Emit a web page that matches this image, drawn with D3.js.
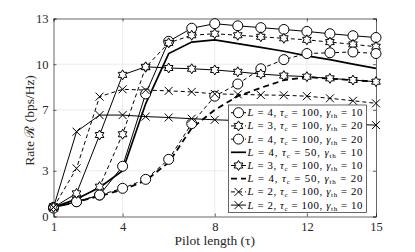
<!DOCTYPE html>
<html><head><meta charset="utf-8">
<script src="https://cdn.jsdelivr.net/npm/d3@7"></script>
<style>body{margin:0;background:#fff}svg{display:block}</style>
</head><body><svg id="c" width="415" height="252"></svg>
<script>
// ---- data ----
const pilotLength = [1,2,3,4,5,6,7,8,9,10,11,12,13,14,15];
const xTickValues = [1,4,8,12,15];
const yTickValues = [0,3,7,10,13];

const rateL4Tc100G10 = [0.6,0.97,1.41,3.3,8.05,11.5,12.36,12.66,12.52,12.4,12.28,12.15,12.0,11.87,11.75];
const rateL3Tc100G20 = [0.6,1.1,1.96,5.4,9.8,11.4,11.9,12.0,11.9,11.8,11.7,11.6,11.45,11.3,11.15];
const rateL4Tc100G20 = [0.55,0.97,1.41,1.85,2.44,3.75,6.1,7.9,8.7,9.7,10.3,10.7,10.75,10.8,10.7];
const rateL4Tc50G10  = [0.6,1.15,1.9,3.0,7.4,10.7,11.45,11.6,11.35,11.1,10.85,10.55,10.3,10.0,9.73];
const rateL3Tc100G10 = [0.6,1.52,5.35,9.3,9.83,9.75,9.7,9.62,9.5,9.35,9.25,9.18,9.07,8.96,8.85];
const rateL4Tc50G20  = [0.6,0.95,1.35,1.75,2.35,3.55,5.8,7.0,7.9,8.45,8.95,9.15,9.05,8.95,8.85];
const rateL2Tc100G20 = [0.6,3.16,7.87,8.35,8.3,8.25,8.18,8.05,8.02,7.98,7.96,7.9,7.76,7.6,7.43];
const rateL2Tc100G10 = [0.6,5.57,6.66,6.66,6.56,6.5,6.42,6.35,6.3,6.25,6.2,6.15,6.1,6.05,6.0];

const legendL     = [4,3,4,4,3,4,2,2];
const legendTauC  = [100,100,100,50,100,50,100,100];
const legendGamma = [10,20,20,10,10,20,20,10];

// ---- styles (kept apart from data) ----
const series = [
  {v: rateL4Tc100G10, dash:null,  w:1,   m:'circle'},
  {v: rateL3Tc100G20, dash:'4,3', w:1,   m:'star'},
  {v: rateL4Tc100G20, dash:'4,3', w:1,   m:'circle'},
  {v: rateL4Tc50G10,  dash:null,  w:1.7, m:null},
  {v: rateL3Tc100G10, dash:null,  w:1,   m:'star'},
  {v: rateL4Tc50G20,  dash:'6,4', w:1.8, m:null},
  {v: rateL2Tc100G20, dash:'4,3', w:1,   m:'x'},
  {v: rateL2Tc100G10, dash:null,  w:1,   m:'x'}
];

const svg = d3.select('#c');
const m = {l:53.5, r:376, t:18.5, b:216.5};
const x = d3.scaleLinear().domain([1,15]).range([m.l, m.r]);
const y = d3.scaleLinear().domain([0,13]).range([m.b, m.t]);
const serif = "'Liberation Serif','Times New Roman',serif";

// grid
const g = svg.append('g');
g.selectAll('.gx').data(xTickValues.slice(1,-1)).enter().append('line')
  .attr('x1',d=>x(d)).attr('x2',d=>x(d)).attr('y1',m.t).attr('y2',m.b)
  .attr('stroke','#e6e6e6').attr('stroke-width',0.8);
g.selectAll('.gy').data(yTickValues.slice(1,-1)).enter().append('line')
  .attr('y1',d=>y(d)).attr('y2',d=>y(d)).attr('x1',m.l).attr('x2',m.r)
  .attr('stroke','#e6e6e6').attr('stroke-width',0.8);

// axes
const axB = svg.append('g').attr('transform',`translate(0,${m.b})`)
  .call(d3.axisBottom(x).tickValues(xTickValues).tickSize(-3).tickPadding(6).tickFormat(d3.format('d')));
const axL = svg.append('g').attr('transform',`translate(${m.l},0)`)
  .call(d3.axisLeft(y).tickValues(yTickValues).tickSize(-3).tickPadding(5).tickFormat(d3.format('d')));
const axT = svg.append('g').attr('transform',`translate(0,${m.t})`)
  .call(d3.axisTop(x).tickValues(xTickValues).tickSize(-3).tickFormat(''));
const axR = svg.append('g').attr('transform',`translate(${m.r},0)`)
  .call(d3.axisRight(y).tickValues(yTickValues).tickSize(-3).tickFormat(''));
[axB,axL,axT,axR].forEach(a=>{
  a.attr('font-family',null);
  a.select('.domain').attr('stroke','#262626').attr('stroke-width',0.7);
  a.selectAll('.tick line').attr('stroke','#262626').attr('stroke-width',0.7);
  a.selectAll('text').style('font-family',serif).attr('font-size',12.5).attr('fill','#262626');
});

// lines
const line = d3.line().x((d,i)=>x(pilotLength[i])).y(d=>y(d));
const lg = svg.append('g');
series.forEach(s=>{
  lg.append('path').datum(s.v).attr('d',line).attr('fill','none')
    .attr('stroke','#000').attr('stroke-width',s.w)
    .attr('stroke-dasharray',s.dash);
});

function starPath(R){
  const r = R/Math.sqrt(3); const pts=[];
  for(let k=0;k<12;k++){
    const a = -Math.PI/2 + k*Math.PI/6;
    const rr = (k%2===0)?R:r;
    pts.push([rr*Math.cos(a), rr*Math.sin(a)]);
  }
  return 'M'+pts.map(p=>p[0].toFixed(2)+','+p[1].toFixed(2)).join('L')+'Z';
}
function drawMarker(sel, type, cx, cy){
  if(type==='circle'){
    sel.append('circle').attr('cx',cx).attr('cy',cy).attr('r',5)
      .attr('fill','#fff').attr('stroke','#000').attr('stroke-width',1);
  } else if(type==='star'){
    sel.append('path').attr('d',starPath(5)).attr('transform',`translate(${cx},${cy})`)
      .attr('fill','#fff').attr('stroke','#000').attr('stroke-width',1);
  } else if(type==='x'){
    const h=4;
    sel.append('path').attr('d',`M${cx-h},${cy-h}L${cx+h},${cy+h}M${cx-h},${cy+h}L${cx+h},${cy-h}`)
      .attr('stroke','#000').attr('stroke-width',1).attr('fill','none');
  }
}
const mg = svg.append('g');
series.forEach(s=>{
  if(!s.m) return;
  s.v.forEach((d,i)=>drawMarker(mg, s.m, x(pilotLength[i]), y(d)));
});

// axis labels
svg.append('text').attr('x',(m.l+m.r)/2).attr('y',245).attr('text-anchor','middle')
  .style('font-family',serif).attr('font-size',13.5).attr('fill','#262626')
  .text('Pilot length (τ)');
svg.append('text').attr('transform',`translate(34,${(m.t+m.b)/2 + 3}) rotate(-90)`)
  .attr('text-anchor','middle').style('font-family',serif).attr('font-size',13.5).attr('fill','#262626')
  .text('Rate ℛ (bps/Hz)');

// legend
const leg = {x0:228.5, y0:105, x1:366.5, y1:212.5, row0:112.7, dy:13.2};
const L = svg.append('g');
L.append('rect').attr('x',leg.x0).attr('y',leg.y0).attr('width',leg.x1-leg.x0).attr('height',leg.y1-leg.y0)
  .attr('fill','#fff').attr('stroke','#262626').attr('stroke-width',0.7);
series.forEach((s,i)=>{
  const cy = leg.row0 + i*leg.dy;
  L.append('line').attr('x1',231).attr('x2',246).attr('y1',cy).attr('y2',cy)
    .attr('stroke','#000').attr('stroke-width',s.w).attr('stroke-dasharray',s.dash);
  if(s.m) drawMarker(L, s.m, 238.5, cy);
  const t = L.append('text').attr('x',247.5).attr('y',cy+3.5)
    .style('font-family',serif).attr('font-size',10.8).attr('fill','#000')
    .attr('textLength',115).attr('lengthAdjust','spacing');
  t.append('tspan').attr('font-style','italic').text('L');
  t.append('tspan').text(` = ${legendL[i]}, `);
  t.append('tspan').attr('font-style','italic').text('τ');
  t.append('tspan').attr('font-size',7).attr('dy',2).text('c');
  t.append('tspan').attr('dy',-2).text(` = ${legendTauC[i]}, `);
  t.append('tspan').attr('font-style','italic').text('γ');
  t.append('tspan').attr('font-size',7).attr('dy',2).text('th');
  t.append('tspan').attr('dy',-2).text(` = ${legendGamma[i]}`);
});
</script></body></html>
